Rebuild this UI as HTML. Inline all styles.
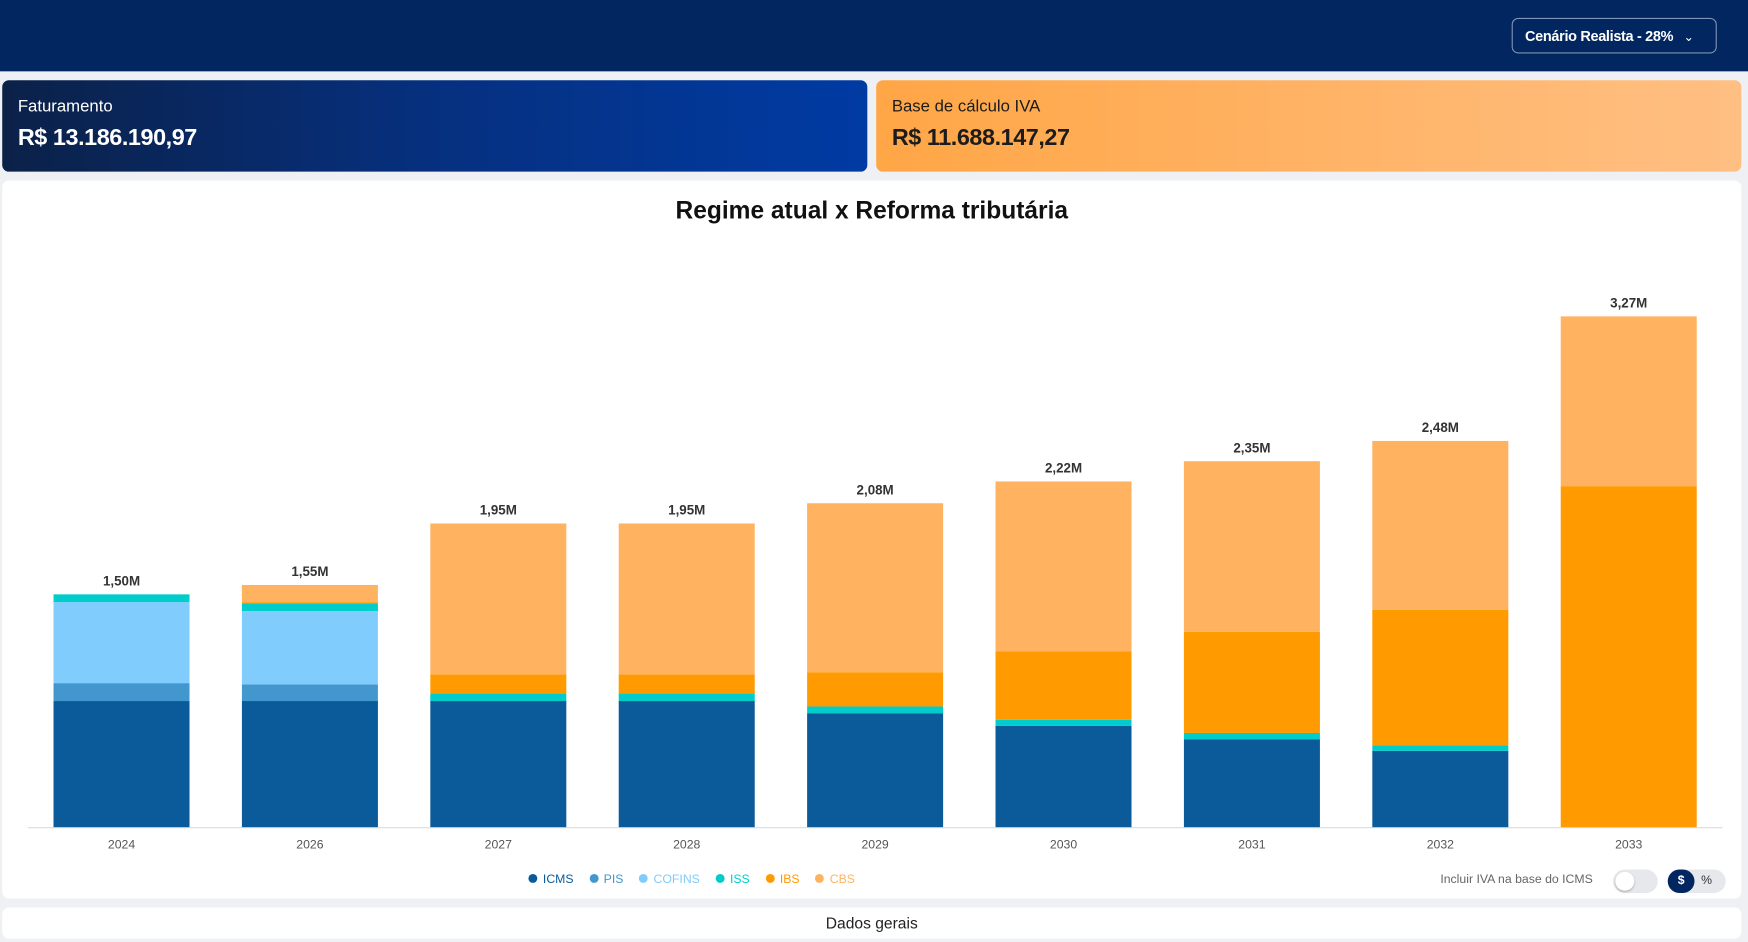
<!DOCTYPE html>
<html><head><meta charset="utf-8">
<style>
html,body{margin:0;padding:0;width:1748px;height:942px;overflow:hidden;background:#eef0f4;font-family:"Liberation Sans",sans-serif}
#wrap{position:absolute;left:0;top:0;width:1568px;height:845px;transform:scale(1.11480);transform-origin:0 0;background:#eef0f4}
.abs{position:absolute}
</style></head><body>
<div id="wrap">
<div class="abs" style="left:0;top:0;width:1568px;height:64px;background:#012660"></div>
<div class="abs" style="left:1356px;top:16px;width:184px;height:32px;border:1px solid #7f93b6;border-radius:6px;color:#fff;font-weight:bold;font-size:13px;line-height:31px;padding-left:11px;box-sizing:border-box;letter-spacing:-0.3px">Cenário Realista - 28% <span style="font-weight:normal;margin-left:6px;font-size:11px">&#8964;</span></div>
<div class="abs" style="left:2px;top:72px;width:776px;height:82px;border-radius:6px;background:linear-gradient(90deg,#0b2148,#06307f 50%,#003ba3);color:#fff">
<div class="abs" style="left:14px;top:15px;font-size:15px">Faturamento</div>
<div class="abs" style="left:14px;top:40px;font-size:21px;font-weight:bold;letter-spacing:-0.4px">R$ 13.186.190,97</div></div>
<div class="abs" style="left:786px;top:72px;width:776px;height:82px;border-radius:6px;background:linear-gradient(90deg,#ffa646,#ffbf83);color:#1c1c1c">
<div class="abs" style="left:14px;top:15px;font-size:15px">Base de cálculo IVA</div>
<div class="abs" style="left:14px;top:40px;font-size:21px;font-weight:bold;letter-spacing:-0.4px">R$ 11.688.147,27</div></div>
<div class="abs" style="left:2px;top:162px;width:1560px;height:644px;border-radius:6px;background:#fff"></div>
<div class="abs" style="left:0;top:176px;width:1564px;text-align:center;font-size:22px;font-weight:bold;color:#111">Regime atual x Reforma tributária</div>
<svg class="abs" style="left:0;top:0" width="1568" height="845" id="chart"></svg>
<div class="abs" id="legend" style="left:467px;top:783px;font-size:11px;white-space:nowrap"></div>
<div class="abs" style="left:1292px;top:783px;font-size:11px;color:#666">Incluir IVA na base do ICMS</div>
<div class="abs" style="left:1447px;top:780px;width:40px;height:21px;border-radius:11px;background:#e6e8ec"><div style="position:absolute;left:2px;top:2px;width:17px;height:17px;border-radius:50%;background:#fff;box-shadow:0 1px 2px #aaa"></div></div>
<div class="abs" style="left:1496px;top:780px;width:52px;height:21px;border-radius:11px;background:#e6e8ec;font-size:11px">
<div style="position:absolute;left:0;top:0;width:24px;height:21px;border-radius:11px;background:#012660;color:#fff;font-weight:bold;text-align:center;line-height:21px">$</div>
<div style="position:absolute;left:30px;top:0;line-height:21px;color:#333">%</div></div>
<div class="abs" style="left:2px;top:814px;width:1560px;height:28px;border-radius:6px;background:#fff;text-align:center;line-height:28px;font-size:14px;color:#222">Dados gerais</div>
</div>
<script>
const years=["2024","2026","2027","2028","2029","2030","2031","2032","2033"];
const totalLabels=["1,50M","1,55M","1,95M","1,95M","2,08M","2,22M","2,35M","2,48M","3,27M"];
const seriesNames=["ICMS","PIS","COFINS","ISS","IBS","CBS"];
const icms=[0.81,0.81,0.81,0.81,0.73,0.65,0.565,0.49,0];
const pis=[0.115,0.107,0,0,0,0,0,0,0];
const cofins=[0.52,0.47,0,0,0,0,0,0,0];
const iss=[0.05,0.05,0.05,0.05,0.045,0.04,0.04,0.035,0];
const ibs=[0,0.008,0.12,0.12,0.22,0.44,0.65,0.87,2.19];
const cbs=[0,0.11,0.97,0.97,1.085,1.09,1.095,1.085,1.09];
const colors=["#0b5a9a","#4397cf","#80ccfc","#00cccc","#ff9a00","#ffb260"];
const svg=document.getElementById('chart');const NS="http://www.w3.org/2000/svg";
const baseY=742,pxPerM=139.7,x0=109,step=169,bw=122;
function xC(i){return x0+i*step}
function yS(v){return v*pxPerM}
function mk(t,a){const e=document.createElementNS(NS,t);for(const k in a)e.setAttribute(k,a[k]);svg.appendChild(e);return e}
const axis=mk('line',{x1:25,x2:1545,y1:baseY+0.5,y2:baseY+0.5,stroke:'#d8dce2'});


const series=[icms,pis,cofins,iss,ibs,cbs];
years.forEach((yr,i)=>{let acc=0;
series.forEach((s,k)=>{const v=s[i];if(v<=0)return;const h=yS(v);
const r=mk('rect',{x:xC(i)-bw/2,y:baseY-yS(acc)-h,width:bw,height:h,fill:colors[k]});


acc+=v;});
const t=mk('text',{x:xC(i),y:baseY-yS(acc)-8,'text-anchor':'middle','font-size':12,'font-weight':'bold',fill:'#333','font-family':'Liberation Sans'});t.textContent=totalLabels[i];


const l=mk('text',{x:xC(i),y:baseY+19,'text-anchor':'middle','font-size':11,fill:'#555','font-family':'Liberation Sans'});l.textContent=yr;


});
const leg=document.getElementById('legend');
seriesNames.forEach((n,k)=>{const s=document.createElement('span');


s.style.cssText='margin:0 7px;color:'+colors[k];
s.innerHTML='<span style="display:inline-block;width:8px;height:8px;border-radius:50%;background:'+colors[k]+';margin-right:5px"></span>'+n;leg.appendChild(s);});
</script>
</body></html>
